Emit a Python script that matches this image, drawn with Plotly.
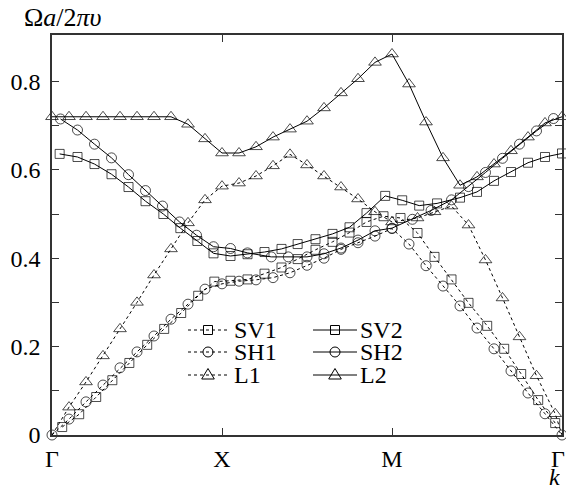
import plotly.graph_objects as go

# ---------------- data (positions along Γ-X-M-Γ in units of 1/10 segment) -------------
sv1_pos = [0.6, 1.6, 2.6, 3.55, 4.55, 5.6, 6.6, 7.6, 8.6, 9.55, 10.5, 11.5, 12.5, 13.5, 14.45,
           15.5, 16.5, 17.5, 18.5, 19.5, 20.5, 21.5, 22.5, 23.5, 24.5, 25.6, 26.6, 27.6, 28.6, 29.6]
sv1_val = [0.018, 0.047, 0.086, 0.124, 0.163, 0.204, 0.24, 0.276, 0.315, 0.347, 0.349, 0.352, 0.365, 0.379, 0.398,
           0.419, 0.437, 0.458, 0.482, 0.495, 0.491, 0.457, 0.403, 0.352, 0.299, 0.247, 0.195, 0.138, 0.079, 0.027]

sh1_pos = list(range(31))
sh1_val = [0, 0.036, 0.075, 0.113, 0.152, 0.188, 0.224, 0.262, 0.296, 0.33, 0.342, 0.348, 0.351, 0.356, 0.367,
           0.384, 0.40, 0.42, 0.435, 0.45, 0.467, 0.432, 0.383, 0.337, 0.292, 0.242, 0.195, 0.145, 0.095, 0.048, 0]

l1_pos = list(range(21)) + [21.5, 22.5, 23.5, 24.5, 25.5, 26.5, 27.5, 28.5, 29.6, 30]
l1_val = [0, 0.063, 0.12, 0.179, 0.24, 0.30, 0.362, 0.421, 0.48, 0.532, 0.563, 0.57, 0.586, 0.609, 0.635,
          0.611, 0.586, 0.561, 0.534, 0.505, 0.482, 0.491, 0.505, 0.518, 0.475, 0.396, 0.31, 0.222, 0.134, 0.048, 0]

sv2_pos = [0.45, 1.5, 2.5, 3.5, 4.5, 5.5, 6.55, 7.55, 8.55, 9.5, 10.5, 11.5, 12.5, 13.5, 14.45,
           15.5, 16.5, 17.5, 18.5, 19.6, 20.6, 21.6, 22.65, 24, 25, 26, 27, 28, 29, 30]
sv2_val = [0.636, 0.629, 0.613, 0.59, 0.561, 0.529, 0.5, 0.468, 0.439, 0.411, 0.405, 0.409, 0.414, 0.421, 0.432,
           0.443, 0.455, 0.47, 0.502, 0.541, 0.531, 0.519, 0.524, 0.537, 0.55, 0.575, 0.595, 0.616, 0.629, 0.637]

sh2_pos = [0.5, 1.5, 2.5, 3.5, 4.5, 5.5, 6.5, 7.5, 8.5, 9.5, 10.5, 11.5, 12.9, 13.9, 15,
           16, 17, 18, 19, 20, 21.2, 22.3, 23.5, 24.5, 25.5, 26.5, 27.5, 28.5, 29.5]
sh2_val = [0.715, 0.69, 0.658, 0.627, 0.589, 0.553, 0.518, 0.482, 0.452, 0.426, 0.422, 0.412, 0.403, 0.403, 0.403,
           0.41, 0.423, 0.441, 0.462, 0.468, 0.488, 0.508, 0.532, 0.562, 0.594, 0.626, 0.658, 0.688, 0.716]

l2_pos = list(range(31))
l2_val = [0.72, 0.72, 0.72, 0.72, 0.72, 0.72, 0.72, 0.72, 0.703, 0.67, 0.638, 0.638, 0.652, 0.674, 0.692,
          0.71, 0.74, 0.774, 0.806, 0.843, 0.862, 0.794, 0.708, 0.627, 0.565, 0.584, 0.613, 0.643, 0.674, 0.706, 0.72]

tick_pos = [0, 1, 2]
tick_text = ["Γ", "X", "M"]
end_label = "Γ"
ytick_vals = [0, 0.2, 0.4, 0.6, 0.8]
ytick_text = ["0", "0.2", "0.4", "0.6", "0.8"]
yminor_vals = [0.1, 0.3, 0.5, 0.7]

# ---------------- styling ----------------
W, H = 566, 489
PL, PR, PT, PB = 52, 562, 35, 435          # plot area in page pixels
ML, MR, MT, MB = PL, W - PR, PT, H - PB
FONT = "Liberation Serif"
DOT = "3px,3px"

series = [
    ("SV1", sv1_pos, sv1_val, DOT, "square-open", 9),
    ("SH1", sh1_pos, sh1_val, DOT, "circle-open", 10),
    ("L1", l1_pos, l1_val, DOT, "triangle-up-open", 11),
    ("SV2", sv2_pos, sv2_val, "solid", "square-open", 9),
    ("SH2", sh2_pos, sh2_val, "solid", "circle-open", 10),
    ("L2", l2_pos, l2_val, "solid", "triangle-up-open", 11),
]

fig = go.Figure()
for name, pos, val, dash, sym, size in series:
    xs = [p / 10 for p in pos]
    sizes = [size] * len(xs)
    if name == "L1":
        sizes[0] = 0
        sizes[-1] = 0
    fig.add_trace(go.Scatter(
        x=xs, y=val, mode="lines+markers", name=name, showlegend=False,
        line=dict(color="black", width=1, dash=dash),
        marker=dict(symbol=sym, size=sizes, color="black", line=dict(width=1, color="black")),
        cliponaxis=False,
    ))

PW = PR - PL
PH = PB - PT


def px_x(px):
    return (px - PL) / PW


def px_y(py):
    return (PB - py) / PH


shapes = []
annotations = []
legend_cols = [(188, 228, 233, ["SV1", "SH1", "L1"]), (313, 357, 359, ["SV2", "SH2", "L2"])]
rows = [330, 352, 375]
style = {s[0]: s for s in series}
for x0, x1, xt, names in legend_cols:
    for name, ry in zip(names, rows):
        _, _, _, dash, sym, size = style[name]
        shapes.append(dict(type="line", xref="paper", yref="paper",
                           x0=px_x(x0), x1=px_x(x1), y0=px_y(ry), y1=px_y(ry),
                           line=dict(color="black", width=1, dash=dash)))
        cx = (x0 + x1) / 2
        if sym.startswith("square"):
            h = 4.5
            shapes.append(dict(type="rect", xref="paper", yref="paper",
                               x0=px_x(cx - h), x1=px_x(cx + h), y0=px_y(ry + h), y1=px_y(ry - h),
                               line=dict(color="black", width=1), fillcolor="rgba(0,0,0,0)"))
        elif sym.startswith("circle"):
            h = 5
            shapes.append(dict(type="circle", xref="paper", yref="paper",
                               x0=px_x(cx - h), x1=px_x(cx + h), y0=px_y(ry + h), y1=px_y(ry - h),
                               line=dict(color="black", width=1), fillcolor="rgba(0,0,0,0)"))
        else:
            path = "M {:.5f},{:.5f} L {:.5f},{:.5f} L {:.5f},{:.5f} Z".format(
                px_x(cx - 6.3), px_y(ry + 4), px_x(cx + 6.3), px_y(ry + 4), px_x(cx), px_y(ry - 6.5))
            shapes.append(dict(type="path", xref="paper", yref="paper", path=path,
                               line=dict(color="black", width=1), fillcolor="rgba(0,0,0,0)"))
        annotations.append(dict(xref="paper", yref="paper", x=px_x(xt), y=px_y(ry),
                                text=name, showarrow=False, xanchor="left", yanchor="middle",
                                height=18, borderpad=0,
                                font=dict(family=FONT, size=24, color="black")))

annotations.append(dict(xref="paper", yref="paper", x=px_x(63), y=px_y(17),
                        text="Ω<i>a</i>/2<i>πυ</i>", showarrow=False, xanchor="center", yanchor="middle",
                        height=20, font=dict(family=FONT, size=26, color="black")))
annotations.append(dict(xref="paper", yref="paper", x=px_x(554), y=px_y(477),
                        text="<i>k</i>", showarrow=False, xanchor="center", yanchor="middle",
                        height=18, font=dict(family=FONT, size=24, color="black")))
annotations.append(dict(xref="paper", yref="paper", x=px_x(558), y=px_y(459),
                        text=end_label, showarrow=False, xanchor="center", yanchor="middle",
                        height=18, font=dict(family=FONT, size=24, color="black")))

axis_common = dict(showline=True, linecolor="#333", linewidth=1.5, mirror="ticks",
                   ticks="inside", ticklen=7, tickwidth=1, tickcolor="#333",
                   showgrid=False, zeroline=False, automargin=False,
                   tickfont=dict(family=FONT, size=24, color="black"))

fig.update_layout(
    width=W, height=H,
    margin=dict(l=ML, r=MR, t=MT, b=MB, autoexpand=False),
    paper_bgcolor="white", plot_bgcolor="white",
    shapes=shapes, annotations=annotations,
    xaxis=dict(range=[0, 3], tickmode="array", tickvals=[0, 1, 2, 3], ticktext=tick_text + [""],
               ticklabelstandoff=1, **axis_common),
    yaxis=dict(range=[0, 0.905], tickmode="array", tickvals=ytick_vals, ticktext=ytick_text,
               ticklabelstandoff=5,
               minor=dict(tickvals=yminor_vals, ticks="inside", ticklen=7, tickcolor="#333"),
               **axis_common),
)

fig.write_html("out.html", config={"displayModeBar": False},
               post_script="document.body.style.margin='0';")
